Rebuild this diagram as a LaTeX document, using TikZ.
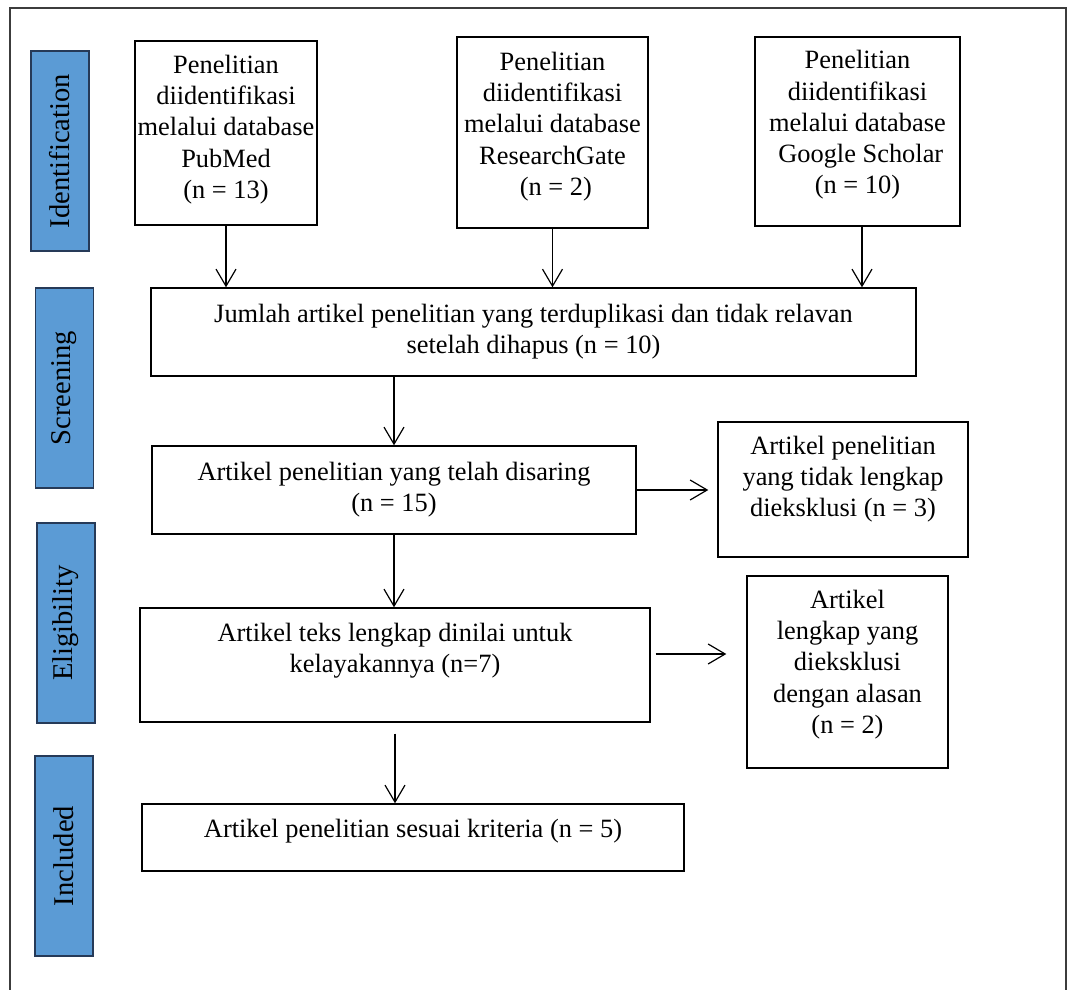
\documentclass[tikz,border=0pt]{standalone}
\usepackage{fontspec}
\setmainfont{Liberation Serif}
\usetikzlibrary{arrows.meta}
\definecolor{biru}{RGB}{91,155,213}
\definecolor{birugelap}{RGB}{38,58,88}
\definecolor{bingkai}{RGB}{60,60,60}
\newcommand{\isi}{\fontsize{13.2}{15.6}\selectfont}
\newcommand{\tahap}{\fontsize{14.3}{17}\selectfont}
\tikzset{
  kotak/.style={rectangle,draw=black,line width=0.7pt,fill=white,
    minimum width=#1,align=center,font=\isi,inner sep=0pt},
  kotak/.default=100pt,
  fase/.style={rectangle,draw=birugelap,line width=0.7pt,fill=biru,
    rotate=90,minimum width=100pt,minimum height=#1,font=\tahap,inner sep=0pt},
  fase/.default=29pt,
  panah/.style={-{Straight Barb[length=8.5pt,width=10pt]},line width=0.6pt},
}

\begin{document}
\begin{tikzpicture}[x=0.5pt,y=-0.5pt]
  \clip (0,0) rectangle (1067,990);
  \draw[line width=0.9pt,bingkai] (10,8) rectangle (1066,1000);

  % tahapan PRISMA
  \node[fase] (idf) at (60,151) {Identification};
  \node[fase] (scr) at (64.5,388) {Screening};
  \node[fase] (elg) at (66,623) {Eligibility};
  \node[fase] (inc) at (64,856) {Included};

  % sumber database
  \node[kotak=91pt,minimum height=92pt,text depth=6.3pt] (pubmed) at (226,133)
    {Penelitian\\diidentifikasi\\melalui database\\PubMed\\(n = 13)};
  \node[kotak=95.5pt,minimum height=95.5pt,text depth=8.8pt] (rgate) at (552.5,132.5)
    {Penelitian\\diidentifikasi\\melalui database\\ResearchGate\\\ (n = 2)};
  \node[kotak=102.5pt,minimum height=94.5pt,text depth=9.3pt] (gscholar) at (857.5,131.5)
    {Penelitian\\diidentifikasi\\melalui database\\\ Google Scholar\\(n = 10)};

  \node[kotak=382.5pt,minimum height=44pt] (dupl) at (533.5,332)
    {Jumlah artikel penelitian yang terduplikasi dan tidak relavan\\setelah dihapus (n = 10)};
  \node[kotak=242pt,minimum height=44pt] (saring) at (394,490)
    {Artikel penelitian yang telah disaring\\(n = 15)};
  \node[kotak=125pt,minimum height=67.5pt,text depth=13.3pt] (eks1) at (843,489.5)
    {Artikel penelitian\\yang tidak lengkap\\dieksklusi (n = 3)};
  \node[kotak=255pt,minimum height=57pt,text depth=17.3pt] (layak) at (395,665)
    {Artikel teks lengkap dinilai untuk\\kelayakannya (n=7)};
  \node[kotak=100.5pt,minimum height=96pt,text depth=10.3pt] (eks2) at (847.5,672)
    {Artikel\\lengkap yang\\dieksklusi\\dengan alasan\\(n = 2)};
  \node[kotak=271pt,minimum height=33.5pt,text depth=8.8pt] (sesuai) at (413,837.5)
    {Artikel penelitian sesuai kriteria (n = 5)};

  \draw[panah] (pubmed) -- (pubmed |- dupl.north);
  \draw[panah] (rgate) -- (rgate |- dupl.north);
  \draw[panah] ([xshift=2.25pt]gscholar.south) -- ([xshift=2.25pt]gscholar.south |- dupl.north);
  \draw[panah] (saring.north |- dupl.south) -- (saring.north);
  \draw[panah,shorten >=4.5pt] (saring.east) -- (saring.east -| eks1.west);
  \draw[panah] (saring) -- (saring |- layak.north);
  \draw[panah,shorten <=2.5pt,shorten >=10pt] ([yshift=5.5pt]layak.east) -- ([yshift=5.5pt]layak.east -| eks2.west);
  \draw[panah,shorten <=5.5pt] (layak.south) -- (layak.south |- sesuai.north);
\end{tikzpicture}
\end{document}
